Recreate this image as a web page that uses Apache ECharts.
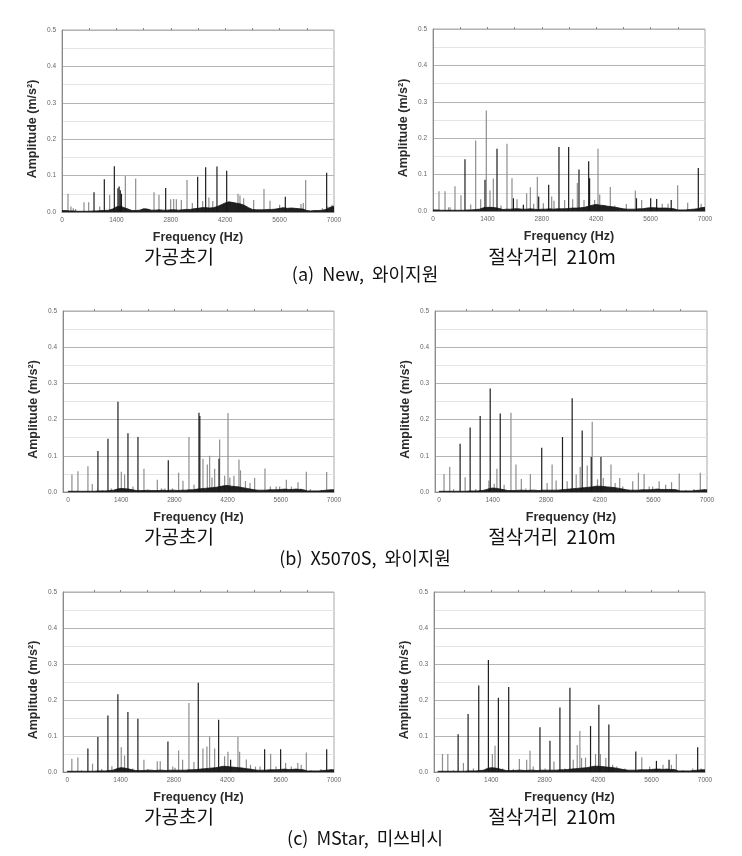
<!DOCTYPE html>
<html>
<head>
<meta charset="utf-8">
<script src="https://cdn.jsdelivr.net/npm/echarts@6/dist/echarts.min.js"></script>
<style>
html,body{margin:0;padding:0;background:#fff;}
#chart{width:742px;height:856px;}
</style>
</head>
<body>
<div id="chart"></div>
<script>
// ---------- tick labels & texts ----------
const xTickValues = [0, 1400, 2800, 4200, 5600, 7000];
const xMinorTopTicks = [700, 1400, 2100, 2800, 3500, 4200, 4900, 5600, 6300];
const yAxisName = 'Amplitude (m/s\u00B2)';
const xAxisName = 'Frequency (Hz)';
const captionLeft = '가공초기';
const captionRight = '절삭거리  210m';
const rowLabels = ['(a)  New,  와이지원', '(b)  X5070S,  와이지원', '(c)  MStar,  미쓰비시'];

// noise floor sampled every 100 Hz (0..7000)
const noiseFreqs = [0,100,200,300,400,500,600,700,800,900,1000,1100,1200,1300,1400,1500,1600,1700,1800,1900,2000,2100,2200,2300,2400,2500,2600,2700,2800,2900,3000,3100,3200,3300,3400,3500,3600,3700,3800,3900,4000,4100,4200,4300,4400,4500,4600,4700,4800,4900,5000,5100,5200,5300,5400,5500,5600,5700,5800,5900,6000,6100,6200,6300,6400,6500,6600,6700,6800,6900,7000];

// ---------- (a) New, left : 가공초기 ----------
const aLeftGrayFreq = [154,230,290,350,566,686,970,1227,1630,1896,2368,2496,2797,2874,2943,3071,3217,3354,3620,3780,3880,4529,4580,4675,4932,5198,5353,5600,6150,6210,6271,6700,6840,6950];
const aLeftGrayAmp  = [0.05,0.015,0.01,0.008,0.027,0.027,0.015,0.047,0.099,0.092,0.054,0.047,0.035,0.036,0.035,0.033,0.088,0.025,0.03,0.04,0.03,0.05,0.045,0.038,0.033,0.063,0.031,0.02,0.022,0.025,0.088,0.01,0.015,0.02];
const aLeftDarkFreq = [824,1089,1347,1440,1470,1500,1530,2668,3491,3697,3988,4238,5747,6811];
const aLeftDarkAmp  = [0.054,0.09,0.126,0.065,0.07,0.06,0.05,0.066,0.097,0.123,0.125,0.113,0.042,0.108];
const aLeftNoise = [0.004,0.004,0.003,0.003,0.002,0.002,0.002,0.002,0.003,0.003,0.004,0.004,0.005,
  0.008,0.014,0.016,0.012,0.008, 0.004,0.004,0.005, 0.009,0.008,
  0.005,0.005,0.006,0.005,0.005,0.006,0.006,0.005,0.006,0.007,0.007,
  0.009,0.01,0.012,0.012,0.011,0.012, 0.015,0.02,0.025,0.028,0.026,0.024,0.022,0.018,0.012,
  0.007,0.006,0.006,0.006,0.007,0.007,0.008,0.01, 0.012,0.01,0.011,0.01,0.009,0.008,
  0.004,0.003,0.004,0.004,0.005,0.007, 0.013,0.016];

// ---------- (a) New, right : 절삭거리 210m ----------
const aRightGrayFreq = [154,309,400,440,566,720,970,1098,1227,1372,1467,1553,1750,1904,2033,2162,2410,2505,2590,2685,2840,3054,3114,3388,3594,3714,3886,4160,4246,4290,4563,4680,4975,5207,5370,5900,6050,6296,6554,6900];
const aRightGrayAmp  = [0.054,0.054,0.01,0.01,0.068,0.043,0.018,0.194,0.032,0.276,0.056,0.089,0.015,0.185,0.09,0.032,0.049,0.065,0.02,0.094,0.021,0.04,0.028,0.03,0.032,0.077,0.03,0.03,0.171,0.045,0.066,0.015,0.019,0.056,0.03,0.02,0.02,0.071,0.023,0.02];
const aRightDarkFreq = [823,1338,1647,2070,2325,2720,2977,3242,3491,3757,4006,4030,5237,5602,5756,6130,6828];
const aRightDarkAmp  = [0.142,0.086,0.171,0.035,0.017,0.04,0.072,0.176,0.176,0.114,0.137,0.09,0.035,0.035,0.033,0.03,0.118];
const aRightNoise = [0.003,0.003,0.002,0.002,0.002,0.002,0.002,0.002,0.002,0.003,0.003,0.004,0.005,
  0.009,0.01,0.01,0.009,0.007, 0.004,0.005,0.005, 0.006,0.006,
  0.005,0.005,0.006,0.005,0.004,0.005,0.005,0.006,0.005,0.006,0.006,
  0.006,0.007,0.008,0.008,0.009,0.01, 0.013,0.016,0.018,0.016,0.015,0.013,0.012,0.01,0.008,
  0.006,0.005,0.005,0.005,0.006,0.006,0.008,0.009, 0.009,0.008,0.008,0.008,0.007,0.006,
  0.003,0.003,0.003,0.004,0.005,0.006, 0.009,0.01];

// ---------- (b) X5070S, left ----------
const bLeftGrayFreq = [105,263,526,640,910,1140,1404,1491,1710,2000,2351,2460,2550,2750,2912,3026,3184,3316,3553,3667,3728,3790,3860,3991,4123,4211,4260,4368,4500,4540,4670,4790,4912,5184,5325,5480,5570,5746,5880,6053,6130,6272,6380,6670,6807,6930];
const bLeftGrayAmp  = [0.048,0.057,0.071,0.022,0.005,0.01,0.056,0.048,0.015,0.064,0.034,0.01,0.01,0.01,0.053,0.031,0.152,0.02,0.092,0.076,0.1,0.04,0.064,0.145,0.045,0.218,0.04,0.045,0.09,0.06,0.03,0.025,0.039,0.065,0.015,0.015,0.015,0.034,0.015,0.027,0.01,0.056,0.008,0.005,0.055,0.005];
const bLeftDarkFreq = [789,1053,1316,1579,1842,2640,3447,3470,3974];
const bLeftDarkAmp  = [0.113,0.147,0.249,0.162,0.152,0.088,0.219,0.21,0.092];
const bLeftNoise = [0.002,0.002,0.002,0.002,0.002,0.002,0.002,0.002,0.003,0.003,0.003,0.004,0.005,
  0.008,0.01,0.009,0.008,0.006, 0.004,0.004,0.004, 0.005,0.004,
  0.004,0.004,0.005,0.004,0.005,0.005,0.004,0.005,0.005,0.006,0.006,
  0.008,0.009,0.01,0.011,0.012,0.013, 0.015,0.017,0.018,0.016,0.015,0.014,0.012,0.01,0.008,
  0.006,0.005,0.005,0.005,0.006,0.006,0.006,0.007, 0.008,0.007,0.007,0.008,0.007,0.006,
  0.003,0.003,0.003,0.003,0.004,0.005, 0.006,0.006];

// ---------- (b) X5070S, right ----------
const bRightGrayFreq = [131,280,380,682,960,1200,1302,1442,1512,1700,1879,2010,2150,2270,2386,2823,2954,3059,3347,3583,3688,3871,4002,4140,4291,4492,4600,4719,4800,5060,5208,5357,5490,5580,5750,5920,6074,6275,6450,6660,6825,6930];
const bRightGrayAmp  = [0.05,0.069,0.008,0.041,0.008,0.008,0.032,0.023,0.064,0.02,0.219,0.076,0.036,0.01,0.05,0.025,0.076,0.032,0.03,0.048,0.069,0.073,0.194,0.035,0.039,0.076,0.025,0.039,0.015,0.03,0.053,0.05,0.015,0.015,0.03,0.02,0.027,0.051,0.005,0.008,0.053,0.008];
const bRightDarkFreq = [551,813,1075,1337,1599,2683,3225,3478,3740,3976,4230];
const bRightDarkAmp  = [0.133,0.178,0.21,0.286,0.217,0.122,0.152,0.259,0.17,0.097,0.097];
const bRightNoise = [0.002,0.002,0.002,0.002,0.002,0.002,0.002,0.002,0.003,0.003,0.003,0.004,0.005,
  0.009,0.011,0.01,0.008,0.006, 0.004,0.004,0.004, 0.005,0.005,
  0.004,0.005,0.005,0.004,0.005,0.005,0.005,0.005,0.005,0.006,0.007,
  0.008,0.009,0.01,0.011,0.012,0.013, 0.014,0.016,0.016,0.015,0.014,0.013,0.012,0.01,0.008,
  0.006,0.005,0.005,0.005,0.006,0.006,0.006,0.007, 0.008,0.007,0.007,0.007,0.007,0.006,
  0.003,0.003,0.003,0.003,0.004,0.005, 0.006,0.006];

// ---------- (c) MStar, left ----------
const cLeftGrayFreq = [122,280,380,665,905,1173,1418,1505,1720,2013,2120,2363,2441,2770,2830,2923,3028,3194,3325,3561,3666,3736,3868,4130,4218,4480,4524,4700,4810,4940,5060,5338,5480,5730,5880,6050,6140,6274,6400,6660,6930];
const cLeftGrayAmp  = [0.037,0.04,0.005,0.023,0.008,0.016,0.069,0.046,0.01,0.034,0.008,0.03,0.03,0.015,0.012,0.06,0.034,0.192,0.028,0.065,0.071,0.099,0.065,0.044,0.056,0.097,0.056,0.035,0.02,0.015,0.015,0.051,0.015,0.025,0.015,0.025,0.02,0.054,0.005,0.008,0.008];
const cLeftDarkFreq = [543,805,1068,1330,1593,1855,2643,3439,3973,4288,5180,5600,6808];
const cLeftDarkAmp  = [0.065,0.097,0.157,0.216,0.167,0.148,0.085,0.248,0.145,0.034,0.063,0.063,0.063];
const cLeftNoise = [0.002,0.002,0.002,0.002,0.002,0.002,0.002,0.002,0.003,0.003,0.003,0.004,0.005,
  0.009,0.012,0.011,0.009,0.006, 0.004,0.004,0.004, 0.005,0.005,
  0.004,0.005,0.005,0.004,0.005,0.005,0.005,0.005,0.005,0.006,0.006,
  0.007,0.008,0.009,0.01,0.011,0.012, 0.014,0.016,0.015,0.014,0.013,0.012,0.011,0.009,0.008,
  0.006,0.005,0.005,0.005,0.006,0.006,0.006,0.007, 0.008,0.007,0.007,0.008,0.007,0.006,
  0.003,0.003,0.003,0.003,0.004,0.005, 0.006,0.006];

// ---------- (c) MStar, right ----------
const cRightGrayFreq = [122,262,410,671,932,1190,1430,1499,1700,1980,2136,2328,2415,2500,2810,3042,3330,3548,3652,3722,3766,3870,4132,4260,4402,4580,4690,4900,5344,5550,5900,6120,6250,6420,6680,6900];
const cRightGrayAmp  = [0.05,0.05,0.005,0.025,0.01,0.005,0.05,0.073,0.01,0.008,0.036,0.034,0.059,0.015,0.01,0.029,0.01,0.034,0.075,0.114,0.039,0.04,0.05,0.05,0.039,0.02,0.015,0.01,0.041,0.015,0.02,0.02,0.05,0.005,0.01,0.01];
const cRightDarkFreq = [532,793,1072,1325,1587,1857,2676,2938,3199,3461,4001,4219,4481,5187,5727,6058,6808];
const cRightDarkAmp  = [0.105,0.161,0.24,0.311,0.206,0.236,0.124,0.087,0.179,0.234,0.128,0.187,0.132,0.057,0.031,0.034,0.069];
const cRightNoise = [0.002,0.002,0.002,0.002,0.002,0.002,0.002,0.002,0.003,0.003,0.003,0.004,0.005,
  0.01,0.012,0.011,0.009,0.006, 0.004,0.004,0.004, 0.005,0.005,
  0.004,0.005,0.005,0.004,0.005,0.005,0.005,0.005,0.005,0.006,0.006,
  0.007,0.008,0.009,0.01,0.011,0.012, 0.014,0.016,0.016,0.015,0.014,0.013,0.012,0.01,0.008,
  0.006,0.005,0.005,0.005,0.006,0.006,0.006,0.007, 0.008,0.008,0.007,0.008,0.007,0.007,
  0.003,0.003,0.003,0.003,0.004,0.005, 0.006,0.006];

// ---------- layout ----------
const panels = [
  {box:[62,30,272,182],  xmin:0,    gray:[aLeftGrayFreq,aLeftGrayAmp],   dark:[aLeftDarkFreq,aLeftDarkAmp],   noise:aLeftNoise},
  {box:[433,29,272,182], xmin:0,    gray:[aRightGrayFreq,aRightGrayAmp], dark:[aRightDarkFreq,aRightDarkAmp], noise:aRightNoise},
  {box:[63,311,271,181], xmin:-130, gray:[bLeftGrayFreq,bLeftGrayAmp],   dark:[bLeftDarkFreq,bLeftDarkAmp],   noise:bLeftNoise},
  {box:[435,311,272,181],xmin:-105, gray:[bRightGrayFreq,bRightGrayAmp], dark:[bRightDarkFreq,bRightDarkAmp], noise:bRightNoise},
  {box:[63,592,271,180], xmin:-110, gray:[cLeftGrayFreq,cLeftGrayAmp],   dark:[cLeftDarkFreq,cLeftDarkAmp],   noise:cLeftNoise},
  {box:[434,592,271,180],xmin:-100, gray:[cRightGrayFreq,cRightGrayAmp], dark:[cRightDarkFreq,cRightDarkAmp], noise:cRightNoise}
];

const sansLatin = '"Liberation Sans", Arial, sans-serif';
const sansKr = '"Noto Sans CJK KR", "Noto Sans", sans-serif';

const grids = [], xAxes = [], yAxes = [], series = [];
panels.forEach((p, i) => {
  grids.push({left:p.box[0], top:p.box[1], width:p.box[2], height:p.box[3],
    show:true, borderColor:'#a8a8a8', borderWidth:1, backgroundColor:'#fff',
    containLabel:false, outerBoundsMode:'none'});
  xAxes.push({type:'value', gridIndex:i, min:p.xmin, max:7000, position:'bottom',
    name:xAxisName, nameLocation:'middle', nameGap:19,
    nameTextStyle:{fontFamily:sansLatin, fontWeight:'bold', fontSize:12.5, color:'#2a2a2a'},
    axisLine:{show:true, onZero:false, lineStyle:{color:'#8a8a8a', width:1}},
    axisTick:{show:false},
    axisLabel:{show:true, customValues:xTickValues, fontSize:6.5, color:'#666', margin:5, fontFamily:sansLatin,
      formatter:v => String(v)},
    splitLine:{show:false}});
  xAxes.push({type:'value', gridIndex:i, min:p.xmin, max:7000, position:'top',
    axisLine:{show:false, onZero:false},
    axisTick:{show:true, customValues:xMinorTopTicks, length:2, lineStyle:{color:'#888'}},
    axisLabel:{show:false}, splitLine:{show:false}});
  yAxes.push({type:'value', gridIndex:i, min:0, max:0.5, interval:0.1,
    name:yAxisName, nameLocation:'middle', nameGap:23, nameRotate:90,
    nameTextStyle:{fontFamily:sansLatin, fontWeight:'bold', fontSize:12.5, color:'#2a2a2a', padding:[0,16,0,0]},
    axisLine:{show:true, onZero:false, lineStyle:{color:'#8a8a8a', width:1}},
    axisTick:{show:false},
    axisLabel:{fontSize:6.5, color:'#666', margin:6, fontFamily:sansLatin, formatter:v => v.toFixed(1)},
    splitLine:{show:true, lineStyle:{color:'#b4b4b4', width:1}},
    minorTick:{show:false, splitNumber:2},
    minorSplitLine:{show:true, lineStyle:{color:'#e4e4e4', width:1}}});
  const xa = i*2;
  series.push({type:'bar', xAxisIndex:xa, yAxisIndex:i, barWidth:1.2, barGap:'-100%',
    itemStyle:{color:'#8e8e8e'}, silent:true, animation:false,
    data:p.gray[0].map((f,k)=>[f, p.gray[1][k]])});
  series.push({type:'bar', xAxisIndex:xa, yAxisIndex:i, barWidth:1.2, barGap:'-100%',
    itemStyle:{color:'#1e1e1e'}, silent:true, animation:false,
    data:p.dark[0].map((f,k)=>[f, p.dark[1][k]])});
  series.push({type:'line', xAxisIndex:xa, yAxisIndex:i, symbol:'none', silent:true, animation:false,
    lineStyle:{color:'#141414', width:0.8}, areaStyle:{color:'#141414', opacity:0.95}, z:5,
    data:noiseFreqs.map((f,k)=>[f, p.noise[k]])});
});

const capY = [[257, 274], [537, 558], [817, 838]];
const graphics = [];
capY.forEach((yy, r) => {
  graphics.push({type:'text', x:179, y:yy[0], style:{text:captionLeft, font:'19px ' + sansKr, fill:'#111', align:'center', verticalAlign:'middle'}});
  graphics.push({type:'text', x:552, y:yy[0], style:{text:captionRight, font:'19px ' + sansKr, fill:'#111', align:'center', verticalAlign:'middle'}});
  graphics.push({type:'text', x:365, y:yy[1], style:{text:rowLabels[r], font:'18px ' + sansKr, fill:'#111', align:'center', verticalAlign:'middle'}});
});

const chart = echarts.init(document.getElementById('chart'), null, {renderer:'canvas'});
chart.setOption({
  animation:false,
  backgroundColor:'#fff',
  grid:grids, xAxis:xAxes, yAxis:yAxes, series:series,
  graphic:graphics
});
</script>
</body>
</html>
